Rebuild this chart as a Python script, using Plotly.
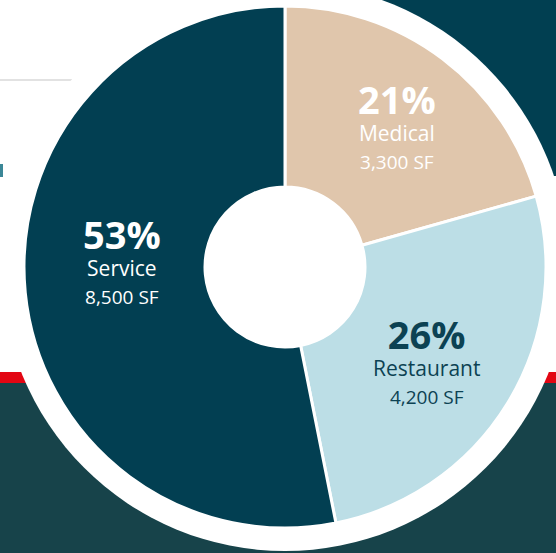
import plotly.graph_objects as go

# ---- data ----
categories = ["Medical", "Restaurant", "Service"]
square_feet = [3300, 4200, 8500]
sf_labels = ["3,300 SF", "4,200 SF", "8,500 SF"]
pct_labels = ["21%", "26%", "53%"]
slice_colors = ["#e0c6ac", "#bcdee6", "#023f52"]
text_colors = ["#ffffff", "#0c4253", "#ffffff"]

W, H = 556, 553
CX, CY, R = 285, 267, 261   # pie centre / radius in px
RING = 284
HOLE = 80


def px(x):
    return x / W


def py(y):
    return 1 - y / H


fig = go.Figure()
fig.add_trace(go.Pie(
    labels=categories,
    values=square_feet,
    sort=False,
    direction="clockwise",
    rotation=0,
    hole=HOLE / R,
    marker=dict(colors=slice_colors, line=dict(color="white", width=3)),
    textinfo="none",
    hoverinfo="label+value+percent",
    showlegend=False,
    domain=dict(x=[px(CX - R), px(CX + R)], y=[py(CY + R), py(CY - R)]),
))

shapes = [
    # dark panel top-right
    dict(type="rect", xref="paper", yref="paper", x0=px(300), x1=1, y0=py(176), y1=1,
         fillcolor="#013f51", line_width=0, layer="below"),
    # red stripe
    dict(type="rect", xref="paper", yref="paper", x0=0, x1=1, y0=py(383), y1=py(372),
         fillcolor="#e30613", line_width=0, layer="below"),
    # forest band
    dict(type="rect", xref="paper", yref="paper", x0=0, x1=1, y0=0, y1=py(383),
         fillcolor="#17434a", line_width=0, layer="below"),
    # grey rule
    dict(type="line", xref="paper", yref="paper", x0=0, x1=px(72), y0=py(80), y1=py(80),
         line=dict(color="#e2e2e2", width=2), layer="below"),
    # cut-off letter fragment
    dict(type="rect", xref="paper", yref="paper", x0=0, x1=px(3), y0=py(177), y1=py(164),
         fillcolor="#3b8797", line_width=0, layer="below"),
    # white ring
    dict(type="circle", xref="paper", yref="paper",
         x0=px(CX - RING), x1=px(CX + RING), y0=py(CY + RING), y1=py(CY - RING),
         fillcolor="white", line_width=0, layer="below"),
]

# label block centres (px)
label_pos = {
    "Medical": (397, 124),
    "Restaurant": (426, 359),
    "Service": (122, 259),
}

annotations = []
for cat, pct, sf, tc in zip(categories, pct_labels, sf_labels, text_colors):
    x, y = label_pos[cat]
    txt = (f"<span style='font-size:38px'><b>{pct}</b></span><br>"
           f"<span style='font-size:21px'>{cat}</span><br>"
           f"<span style='font-size:19px'>{sf}</span>")
    annotations.append(dict(x=px(x), y=py(y), xref="paper", yref="paper", text=txt,
                            showarrow=False, xanchor="center", yanchor="middle", align="center",
                            font=dict(family="Open Sans", size=21, color=tc)))

fig.update_layout(
    width=W, height=H,
    margin=dict(l=0, r=0, t=0, b=0),
    paper_bgcolor="white",
    plot_bgcolor="white",
    shapes=shapes,
    annotations=annotations,
)

fig.write_html("out.html")
